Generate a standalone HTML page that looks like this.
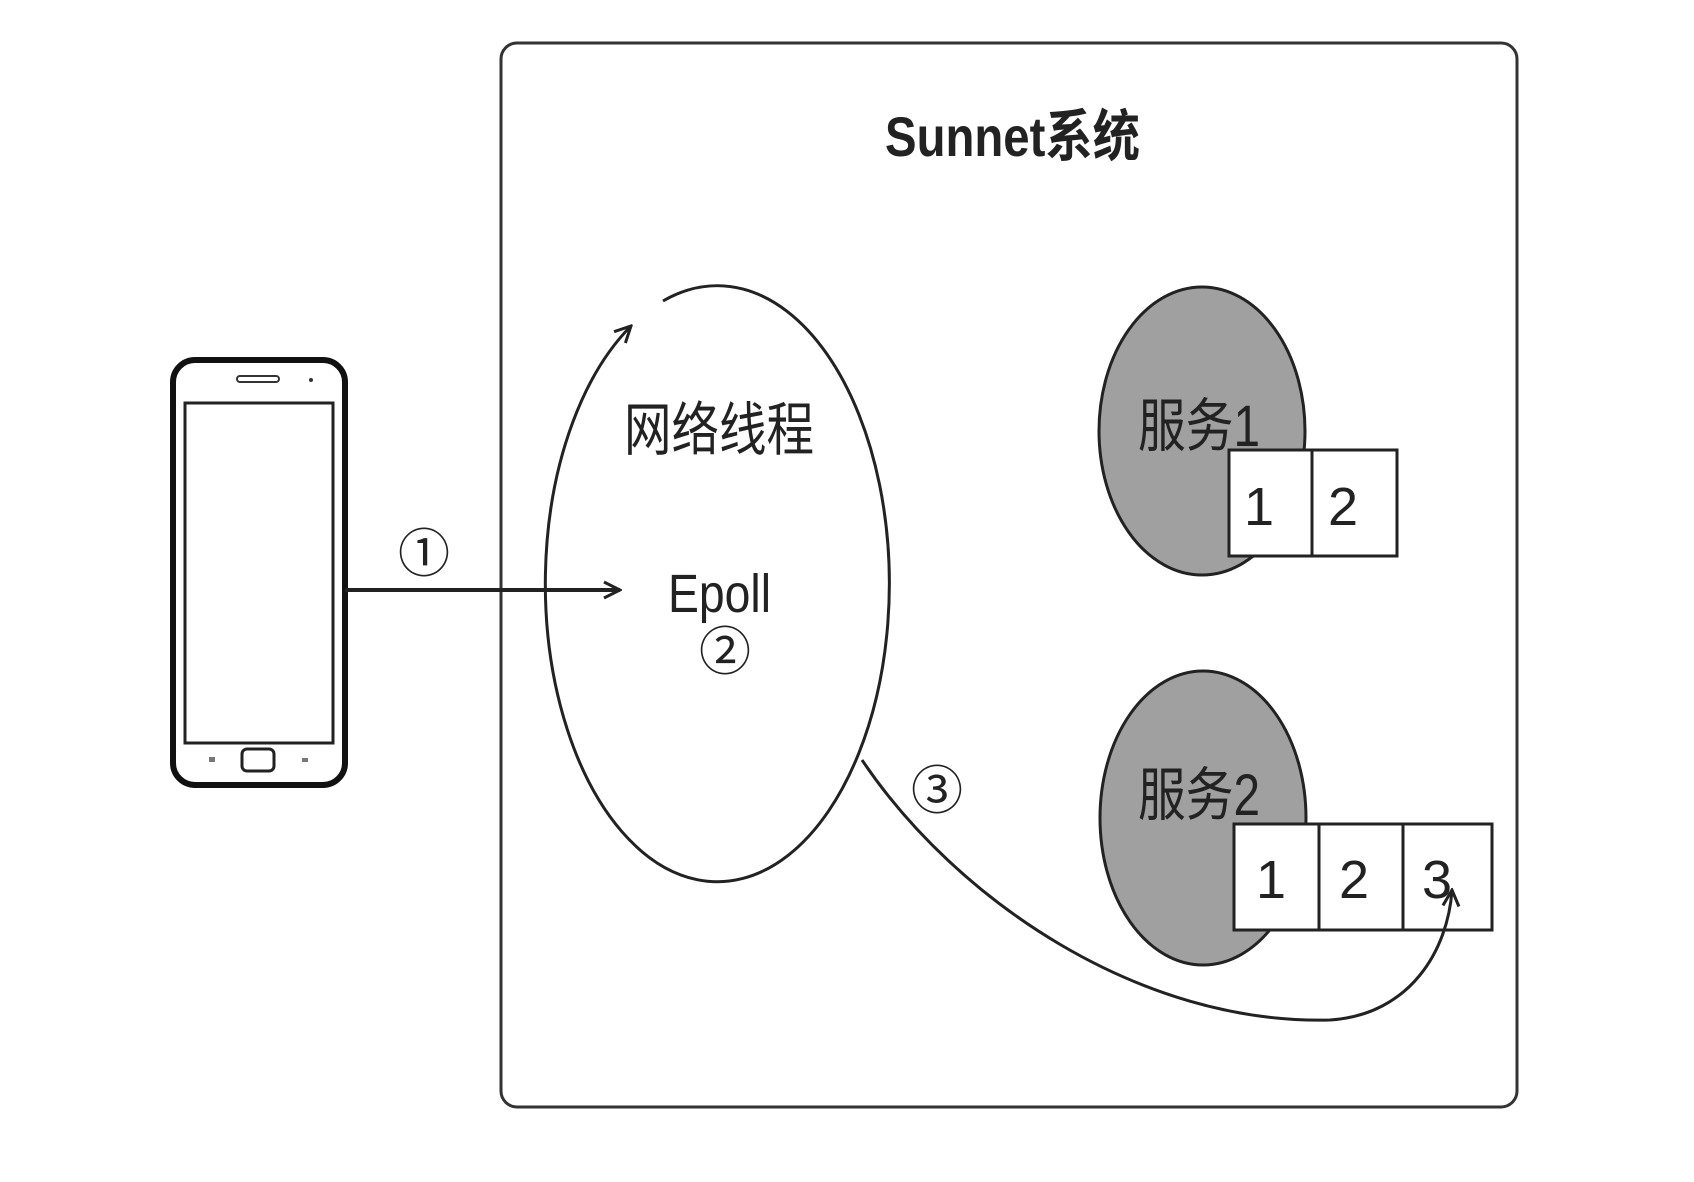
<!DOCTYPE html>
<html><head><meta charset="utf-8"><style>
html,body{margin:0;padding:0;background:#fff;width:1694px;height:1182px;overflow:hidden}
text{font-family:"Liberation Sans","Noto Sans CJK SC",sans-serif;fill:#222}
</style></head><body>
<svg width="1694" height="1182" viewBox="0 0 1694 1182" xmlns="http://www.w3.org/2000/svg">
<defs>
<marker id="ah" viewBox="0 0 20 20" refX="18" refY="10" markerWidth="20" markerHeight="20" markerUnits="userSpaceOnUse" orient="auto">
<path d="M2,2 L18,10 L2,18" fill="none" stroke="#222" stroke-width="3"/>
</marker>
</defs>
<rect x="501" y="43" width="1016" height="1064" rx="16" fill="none" stroke="#333" stroke-width="3"/>
<text x="885" y="156" font-size="56" font-weight="bold" textLength="255" lengthAdjust="spacingAndGlyphs">Sunnet系统</text>

<rect x="173" y="360" width="172" height="425" rx="22" fill="#fff" stroke="#111" stroke-width="6"/>
<rect x="185" y="403" width="148" height="340" fill="none" stroke="#222" stroke-width="3"/>
<rect x="237" y="376" width="42" height="6" rx="3" fill="none" stroke="#333" stroke-width="2"/>
<circle cx="311" cy="380" r="2" fill="#333"/>
<rect x="242" y="749" width="32" height="22" rx="5" fill="none" stroke="#222" stroke-width="3"/>
<rect x="209" y="757" width="6" height="5" fill="#777"/>
<rect x="302" y="758" width="6" height="4" fill="#777"/>

<line x1="345" y1="590" x2="620" y2="590" stroke="#222" stroke-width="4" marker-end="url(#ah)"/>
<text x="424" y="572" font-size="52" text-anchor="middle">①</text>

<path d="M663,301 A172,298 0 1 1 631,326" fill="none" stroke="#222" stroke-width="3" marker-end="url(#ah)"/>
<text x="624" y="450" font-size="58" fill="#333" textLength="190" lengthAdjust="spacingAndGlyphs">网络线程</text>
<text x="668" y="612" font-size="54" textLength="103" lengthAdjust="spacingAndGlyphs">Epoll</text>
<text x="725" y="670" font-size="52" text-anchor="middle">②</text>

<ellipse cx="1202" cy="431" rx="103" ry="144" fill="#a0a0a0" stroke="#222" stroke-width="3"/>
<text x="1138" y="446" font-size="58" fill="#333" textLength="122" lengthAdjust="spacingAndGlyphs">服务1</text>
<rect x="1229" y="450" width="168" height="106" fill="#fff" stroke="#222" stroke-width="3"/>
<line x1="1312" y1="450" x2="1312" y2="556" stroke="#222" stroke-width="3"/>
<text x="1259" y="525" font-size="54" text-anchor="middle">1</text>
<text x="1343" y="525" font-size="54" text-anchor="middle">2</text>

<ellipse cx="1203" cy="818" rx="103" ry="147" fill="#a0a0a0" stroke="#222" stroke-width="3"/>
<text x="1138" y="815" font-size="58" fill="#333" textLength="122" lengthAdjust="spacingAndGlyphs">服务2</text>
<rect x="1234" y="824" width="258" height="106" fill="#fff" stroke="#222" stroke-width="3"/>
<line x1="1319" y1="824" x2="1319" y2="930" stroke="#222" stroke-width="3"/>
<line x1="1403" y1="824" x2="1403" y2="930" stroke="#222" stroke-width="3"/>
<text x="1271" y="898" font-size="54" text-anchor="middle">1</text>
<text x="1354" y="898" font-size="54" text-anchor="middle">2</text>
<text x="1437" y="898" font-size="54" text-anchor="middle">3</text>

<path d="M862,760 C956,900 1140,1025 1330,1020 C1410,1015 1448,950 1452,890" fill="none" stroke="#222" stroke-width="3" marker-end="url(#ah)"/>
<text x="937" y="809" font-size="52" text-anchor="middle">③</text>
</svg>
</body></html>
